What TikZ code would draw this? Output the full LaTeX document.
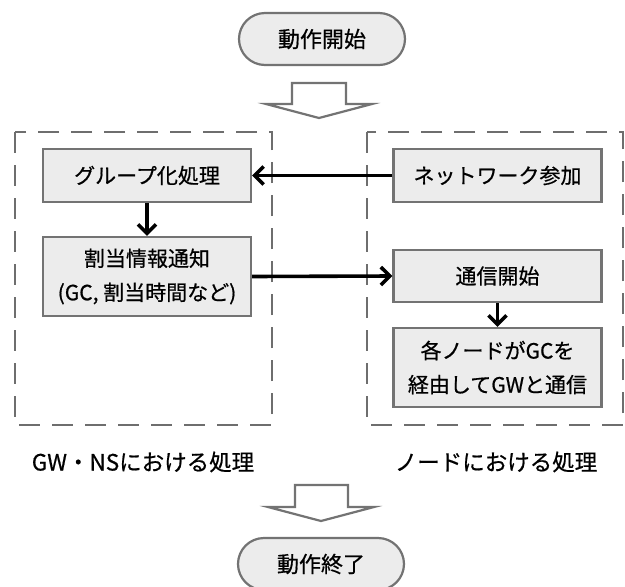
\documentclass[tikz,border=0pt]{standalone}
\usepackage{fontspec}
\setmainfont{Noto Sans CJK JP}[FakeBold=0.6,AutoFakeBold=0.6]
\usetikzlibrary{arrows.meta}
\definecolor{boxfill}{RGB}{236,236,236}
\definecolor{boxline}{RGB}{115,115,115}
\definecolor{dashline}{RGB}{110,110,110}
\tikzset{
  procbox/.style={draw=boxline, line width=2.2pt, fill=boxfill, minimum width=208pt, align=center, inner sep=0pt, font=\fontsize{21}{34}\selectfont\bfseries},
  termbox/.style={draw=boxline, line width=2.2pt, fill=boxfill, rounded corners=26pt, minimum width=166pt, minimum height=52pt, inner sep=0pt, font=\fontsize{22}{24}\selectfont\bfseries},
  groupbox/.style={draw=dashline, line width=2.6pt, dash pattern=on 21pt off 12pt},
  flowarrow/.style={line width=3.6pt, -{Straight Barb[length=9pt,width=18pt,line width=3.6pt]}},
  hollow/.style={draw=boxline, line width=2.2pt, fill=white, line join=miter},
  grouplabel/.style={font=\fontsize{22.5}{26}\selectfont\bfseries, inner sep=0pt}
}
\begin{document}
\begin{tikzpicture}[x=1pt,y=-1pt]
\clip (0,0) rectangle (625,587);
\fill[white] (0,0) rectangle (625,587);
% dashed group boxes
\draw[groupbox] (15,132) rectangle (272,425);
\draw[groupbox] (367,132) rectangle (623,425);
% terminators
\node[termbox] (start) at (322,39) {動作開始};
\node[termbox] (stop) at (321,564) {動作終了};
% hollow arrows
\draw[hollow] (292,83) -- (346,83) -- (346,104) -- (372,104) -- (319,118) -- (266,104) -- (292,104) -- cycle;
\draw[hollow] (295,485) -- (348,485) -- (348,507) -- (374,507) -- (321,521) -- (268,507) -- (295,507) -- cycle;
% process boxes
\node[procbox, minimum height=53pt] (g1) at (147,175.5) {グループ化処理};
\node[procbox, minimum height=79pt] (g2) at (147,276.5) {割当情報通知\\(GC, 割当時間など)};
\node[procbox, minimum height=53pt] (n1) at (497.5,175.5) {ネットワーク参加};
\node[procbox, minimum height=52pt] (n2) at (497.5,276) {通信開始};
\node[procbox, minimum height=79pt] (n3) at (497.5,367.5) {各ノードがGCを\\経由してGWと通信};
% labels
\node[grouplabel] (lblL) at (143,462) {GW・NSにおける処理};
\node[grouplabel] (lblR) at (496,462) {ノードにおける処理};
% connectors
\draw[flowarrow] (n1.west) -- (g1.east);
\draw[flowarrow] (g2.east) -- (n2.west);
\draw[flowarrow] (g1.south) -- (g2.north);
\draw[flowarrow] (n2.south) -- (n3.north);
\end{tikzpicture}
\end{document}
